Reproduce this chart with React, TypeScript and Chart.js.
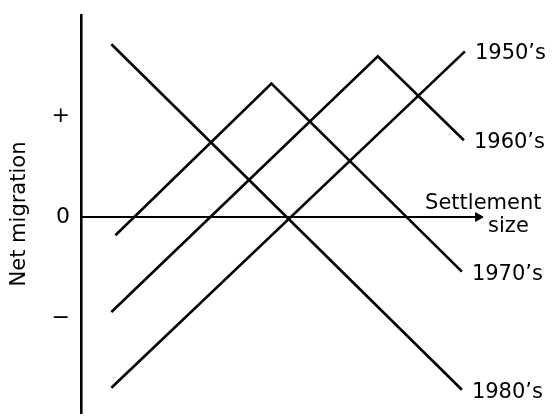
import React, { useEffect, useRef } from "react";
import { Chart, registerables } from "chart.js";

Chart.register(...registerables);

// Series (schematic units: 1 unit on each axis)
const seriesNames = ["1950’s", "1960’s", "1970’s", "1980’s"];
const x1950 = [0.3, 3.79];
const y1950 = [-1.69, 1.64];
const x1960 = [0.3, 2.93, 3.78];
const y1960 = [-0.94, 1.59, 0.76];
const x1970 = [0.34, 1.88, 3.76];
const y1970 = [-0.18, 1.32, -0.54];
const x1980 = [0.3, 3.76];
const y1980 = [1.71, -1.71];

// Horizontal axis arrow (settlement size), drawn at zero migration
const axisX = [0, 3.92];
const axisY = [0, 0];

// Y tick marks
const tickValues = [-1, 0, 1];
const tickLabels = ["−", "0", "+"];

const yTitle = "Net migration";
const xTitleLines = ["Settlement", "size"];

const FONT = '"DejaVu Sans", "Liberation Sans", sans-serif';

const toPoints = (xs: number[], ys: number[]) => xs.map((x, i) => ({ x, y: ys[i] }));

export default function App() {
  const canvasRef = useRef<HTMLCanvasElement | null>(null);

  useEffect(() => {
    const canvas = canvasRef.current;
    if (!canvas) return;

    const lineStyle = {
      borderColor: "#000",
      backgroundColor: "#000",
      borderWidth: 2.6,
      pointRadius: 0,
      fill: false,
      tension: 0,
    };

    const labelPlugin = {
      id: "endLabels",
      afterDatasetsDraw(chart: any) {
        const ctx = chart.ctx;
        ctx.save();
        ctx.fillStyle = "#000";
        ctx.font = `21px ${FONT}`;
        ctx.textAlign = "left";
        ctx.textBaseline = "alphabetic";
        seriesNames.forEach((name, i) => {
          const meta = chart.getDatasetMeta(i);
          const pt = meta.data[meta.data.length - 1];
          ctx.fillText(name, pt.x + 10, pt.y + 8);
        });
        const axisMeta = chart.getDatasetMeta(seriesNames.length);
        const tip = axisMeta.data[axisMeta.data.length - 1];
        ctx.fillText(xTitleLines[0], tip.x - 53, tip.y - 8);
        ctx.fillText(xTitleLines[1], tip.x + 10, tip.y + 15);
        ctx.restore();
      },
    };

    const chart = new Chart(canvas, {
      type: "line",
      data: {
        datasets: [
          { label: seriesNames[0], data: toPoints(x1950, y1950), ...lineStyle },
          { label: seriesNames[1], data: toPoints(x1960, y1960), ...lineStyle },
          { label: seriesNames[2], data: toPoints(x1970, y1970), ...lineStyle },
          { label: seriesNames[3], data: toPoints(x1980, y1980), ...lineStyle },
          {
            label: "axis",
            data: toPoints(axisX, axisY),
            borderColor: "#000",
            backgroundColor: "#000",
            borderWidth: 2,
            pointRadius: [0, 5],
            pointStyle: "triangle",
            pointRotation: 90,
            pointBorderWidth: 1,
            pointBackgroundColor: "#000",
            pointBorderColor: "#000",
            fill: false,
          },
        ],
      },
      options: {
        responsive: false,
        animation: false,
        devicePixelRatio: 1,
        layout: { padding: { top: 15, left: 0, right: 0, bottom: 0 } },
        plugins: {
          legend: { display: false },
          tooltip: { enabled: false },
        },
        scales: {
          x: {
            type: "linear",
            display: false,
            min: 0,
            max: 4.62,
          },
          y: {
            type: "linear",
            min: -1.94,
            max: 2.0,
            grid: { display: false, drawTicks: false },
            border: { display: true, color: "#000", width: 2.6 },
            afterBuildTicks: (scale: any) => {
              scale.ticks = tickValues.map((v) => ({ value: v }));
            },
            afterFit: (scale: any) => {
              scale.width = 81;
              scale.paddingTop = 0;
              scale.paddingBottom = 0;
            },
            ticks: {
              color: "#000",
              padding: 11,
              font: { family: FONT, size: 22 },
              callback: (v: any) => {
                const idx = tickValues.indexOf(Number(v));
                return idx >= 0 ? tickLabels[idx] : "";
              },
            },
            title: {
              display: true,
              text: yTitle,
              color: "#000",
              font: { family: FONT, size: 21 },
              padding: { top: 7, bottom: 0 },
            },
          },
        },
      },
      plugins: [labelPlugin],
    } as any);

    return () => chart.destroy();
  }, []);

  return (
    <div style={{ position: "absolute", left: 0, top: 0, width: 555, height: 419, background: "#fff" }}>
      <canvas ref={canvasRef} width={555} height={419} style={{ display: "block" }} />
    </div>
  );
}
